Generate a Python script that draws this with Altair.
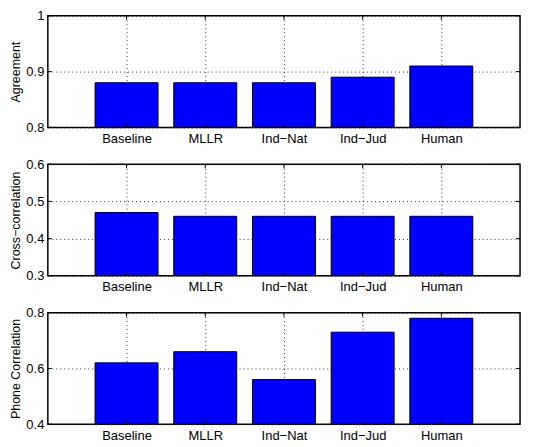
import altair as alt
import pandas as pd

categories = ["Baseline", "MLLR", "Ind\u2212Nat", "Ind\u2212Jud", "Human"]
agreement = [0.88, 0.88, 0.88, 0.89, 0.91]
cross_corr = [0.47, 0.46, 0.46, 0.46, 0.46]
phone_corr = [0.62, 0.66, 0.56, 0.73, 0.78]

panels = [
    ("Agreement", agreement, [0.8, 1.0], [0.8, 0.9, 1.0]),
    ("Cross\u2212correlation", cross_corr, [0.3, 0.6], [0.3, 0.4, 0.5, 0.6]),
    ("Phone Correlation", phone_corr, [0.4, 0.8], [0.4, 0.6, 0.8]),
]

label_expr = "[" + ",".join("'" + c + "'" for c in categories) + "][datum.value - 1]"
FONT = "Liberation Sans"
W, H = 474, 112
TL = 4  # inward tick length


def make_panel(title, values, domain, ticks):
    df = pd.DataFrame({
        "pos": list(range(1, len(categories) + 1)),
        "cat": categories,
        "val": values,
    })
    df["x0"] = df["pos"] - 0.4
    df["x1"] = df["pos"] + 0.4
    df["base"] = domain[0]
    xs = alt.Scale(domain=[0, 6], nice=False, zero=False)
    ys = alt.Scale(domain=domain, nice=False, zero=False)
    xa = alt.Axis(values=[1, 2, 3, 4, 5], labelExpr=label_expr, title=None,
                  ticks=False, domain=False, labelPadding=5)
    ya = alt.Axis(values=ticks, format="~g", title=title, ticks=False,
                  domain=False, labelPadding=4, titlePadding=3, labelOverlap=False)
    bars = alt.Chart(df).mark_bar(
        color="#0000FF", stroke="black", strokeWidth=1, clip=True
    ).encode(
        x=alt.X("x0:Q", scale=xs, axis=xa),
        x2="x1:Q",
        y=alt.Y("base:Q", scale=ys, axis=ya),
        y2="val:Q",
    )
    xt = pd.DataFrame({"t": [1, 2, 3, 4, 5]})
    yt = pd.DataFrame({"t": ticks})
    xtick_b = alt.Chart(xt).mark_rule(color="black", strokeWidth=1).encode(
        x=alt.X("t:Q", scale=xs, axis=xa), y=alt.value(H), y2=alt.value(H - TL))
    xtick_t = alt.Chart(xt).mark_rule(color="black", strokeWidth=1).encode(
        x=alt.X("t:Q", scale=xs, axis=xa), y=alt.value(0), y2=alt.value(TL))
    ytick_l = alt.Chart(yt).mark_rule(color="black", strokeWidth=1).encode(
        y=alt.Y("t:Q", scale=ys, axis=ya), x=alt.value(0), x2=alt.value(TL))
    ytick_r = alt.Chart(yt).mark_rule(color="black", strokeWidth=1).encode(
        y=alt.Y("t:Q", scale=ys, axis=ya), x=alt.value(W), x2=alt.value(W - TL))
    return alt.layer(bars, xtick_b, xtick_t, ytick_l, ytick_r).properties(width=W, height=H)


chart = alt.vconcat(
    *[make_panel(*p) for p in panels], spacing=37, bounds="flush"
).properties(
    background="white", padding={"left": 1, "top": 0, "right": 5, "bottom": 0}
).configure_view(
    stroke="black", strokeWidth=1.5
).configure_axis(
    labelFont=FONT, titleFont=FONT, labelFontSize=13, titleFontSize=12.5,
    titleFontWeight="normal", labelColor="black", titleColor="black",
    grid=True, gridColor="#333333", gridDash=[1, 3], gridWidth=1,
)

chart.save("out.html", embed_options={"renderer": "svg", "actions": False})
